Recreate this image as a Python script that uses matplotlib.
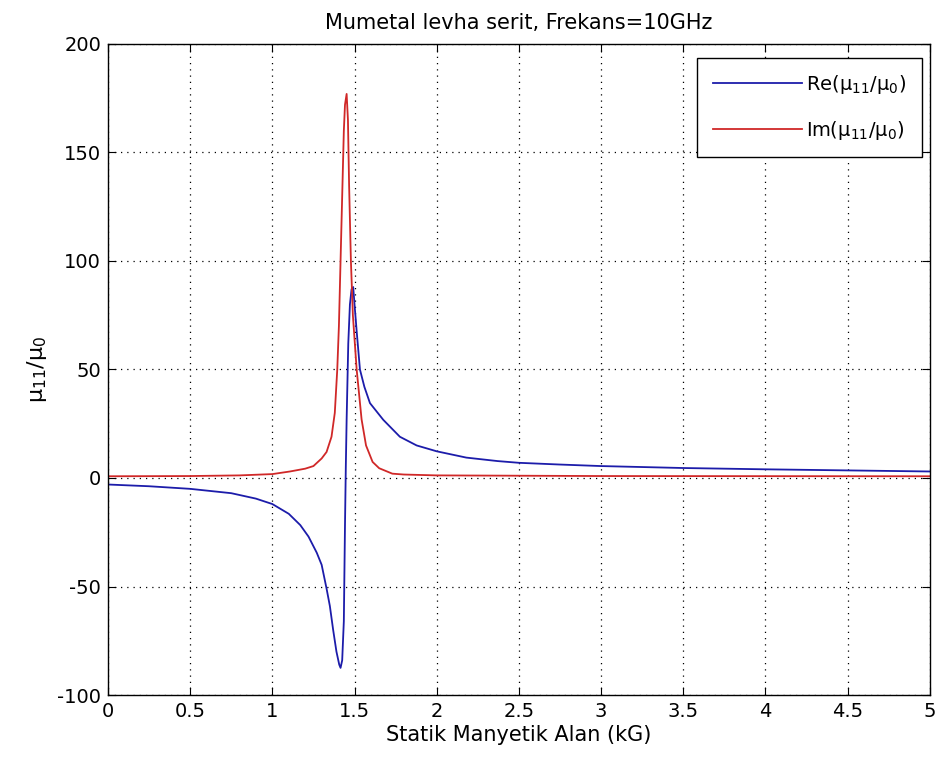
import numpy as np
import matplotlib.pyplot as plt

# Re(mu11/mu0)
re_x = [0, 0.25, 0.5, 0.75, 0.9, 1.0, 1.1, 1.17, 1.22, 1.27, 1.3, 1.33, 1.35, 1.37,
        1.39, 1.407, 1.415, 1.425, 1.435, 1.442, 1.447, 1.452, 1.462, 1.472, 1.482,
        1.492, 1.50, 1.513, 1.533, 1.56, 1.594, 1.675, 1.776, 1.878, 2.0, 2.18, 2.37,
        2.5, 2.75, 3.0, 3.5, 4.0, 4.5, 5.0]
re_y = [-3, -3.8, -5, -7, -9.5, -12, -16.5, -21.7, -27, -34.4, -40, -51, -59, -70,
        -80, -86, -87.5, -84, -66, -21.7, 5, 27, 62, 80, 87,
        88, 80, 67.7, 50, 42, 34.5, 26.8, 19, 15, 12.3, 9.4, 7.8,
        7, 6.2, 5.5, 4.6, 4, 3.5, 3]

# Im(mu11/mu0)
im_x = [0, 0.5, 0.8, 1.0, 1.107, 1.2, 1.25, 1.3, 1.33, 1.36, 1.38, 1.395, 1.405,
        1.415, 1.425, 1.435, 1.442, 1.452, 1.46, 1.467, 1.478, 1.49, 1.513, 1.543,
        1.57, 1.61, 1.65, 1.73, 1.8, 2.0, 3.0, 5.0]
im_y = [0.8, 0.9, 1.2, 1.8, 3, 4.3, 5.5, 9, 12, 19, 30, 50, 70,
        100, 130, 160, 172, 177, 165, 135, 100, 75, 50, 27,
        15, 7.4, 4.5, 2, 1.6, 1.2, 0.9, 0.8]

xticks = [0, 0.5, 1, 1.5, 2, 2.5, 3, 3.5, 4, 4.5, 5]
yticks = [-100, -50, 0, 50, 100, 150, 200]

plt.rcParams['font.family'] = ['DejaVu Sans']
plt.rcParams['mathtext.fontset'] = 'dejavusans'
plt.rcParams['axes.unicode_minus'] = False

fig = plt.figure(figsize=(9.43, 7.65), dpi=100)
ax = fig.add_axes([0.1145, 0.0915, 0.8715, 0.851])

ax.plot(re_x, re_y, color='#1c1caa', lw=1.3, label='Re(μ$_{11}$/μ$_0$)')
ax.plot(im_x, im_y, color='#d02828', lw=1.3, label='Im(μ$_{11}$/μ$_0$)')

ax.set_xlim(0, 5)
ax.set_ylim(-100, 200)
ax.set_xticks(xticks)
ax.set_xticklabels([('%g' % t) for t in xticks])
ax.set_yticks(yticks)
ax.grid(True, color='black', linestyle=(0, (1, 4)), lw=0.9)
ax.tick_params(direction='in', top=True, right=True, length=6, labelsize=14, pad=5)
for s in ax.spines.values():
    s.set_linewidth(1.0)

ax.set_title('Mumetal levha serit, Frekans=10GHz', fontsize=15, pad=11)
ax.set_xlabel('Statik Manyetik Alan (kG)', fontsize=15, labelpad=3)
ax.set_ylabel('μ$_{11}$/μ$_0$', fontsize=16, labelpad=6)

leg = ax.legend(loc='upper right', fontsize=14, fancybox=False, framealpha=1,
                edgecolor='black', handlelength=4.6, handletextpad=0.2,
                borderpad=0.8, labelspacing=1.15, borderaxespad=0,
                bbox_to_anchor=(0.990, 0.979))
leg.get_frame().set_linewidth(1.0)

fig.savefig('out.png', dpi=100)
